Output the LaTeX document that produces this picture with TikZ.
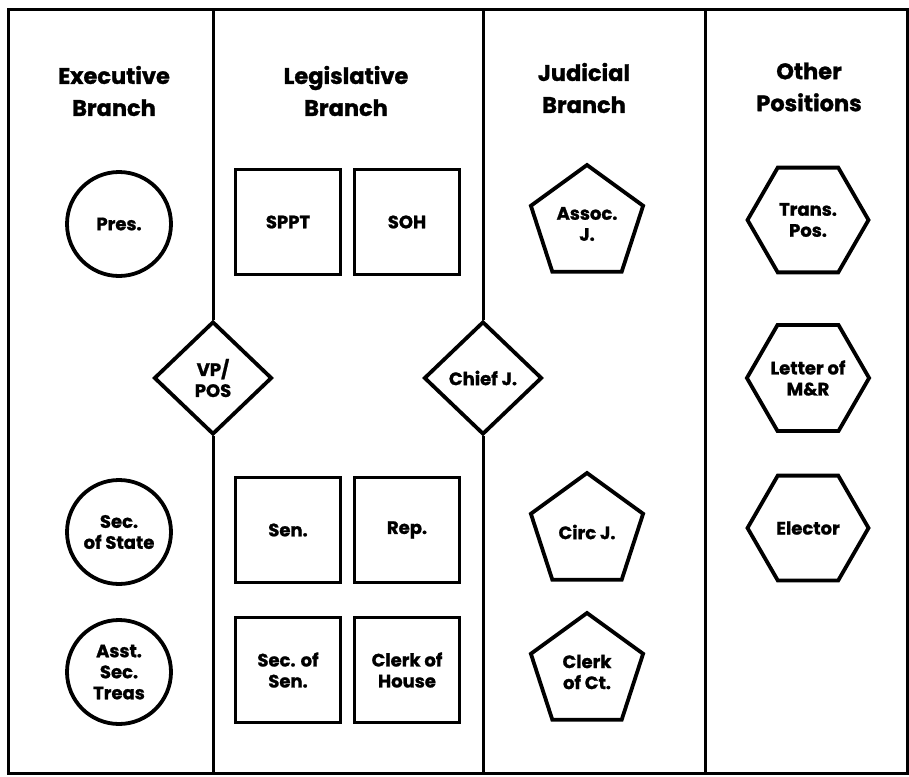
\documentclass[tikz,border=0pt]{standalone}
\usepackage{fontspec}
\setmainfont{Poppins}[BoldFeatures={FakeBold=1.2}]
\usetikzlibrary{shapes.geometric}
\begin{document}
\begin{tikzpicture}[x=1pt,y=-1pt,
  frame/.style={line width=3pt},
  heading/.style={align=center,font=\fontsize{22.5}{32}\selectfont\bfseries},
  item/.style={draw,line width=3.8pt,align=center,inner sep=0pt,
    font=\fontsize{18}{21}\selectfont\bfseries},
  officecircle/.style={item,circle,minimum size=104pt},
  officebox/.style={item,rectangle,minimum width=105pt,minimum height=105pt},
  crossing/.style={item,diamond,minimum width=118pt,minimum height=113pt},
  court/.style={item,regular polygon,regular polygon sides=5,minimum size=118pt},
  other/.style={item,regular polygon,regular polygon sides=6,minimum size=121pt}]
\useasboundingbox (0,0) rectangle (909,776);

% outer frame and fixed column rule
\draw[frame] (8,10) rectangle (907,773);
\coordinate (ruleAtop) at (213,10);
\coordinate (ruleAbot) at (213,773);
\coordinate (ruleBtop) at (483,10);
\coordinate (ruleBbot) at (483,773);
\coordinate (ruleCtop) at (705,10);
\coordinate (ruleCbot) at (705,773);
\draw[frame] (ruleCtop) -- (ruleCbot);

% column headings
\node[heading] (hexec) at (114,91) {Executive\\Branch};
\node[heading] (hleg) at (346,91) {Legislative\\Branch};
\node[heading] (hjud) at (584,88) {Judicial\\Branch};
\node[heading] (hoth) at (809,87) {Other\\Positions};

% diamonds sitting on the column rules
\node[crossing] (vp) at (213,378) {VP/\\POS};
\node[crossing] (cj) at (483,378) {Chief J.};
\draw[frame] (ruleAtop) -- (vp.north);
\draw[frame] (vp.south) -- (ruleAbot);
\draw[frame] (ruleBtop) -- (cj.north);
\draw[frame] (cj.south) -- (ruleBbot);

% executive
\node[officecircle] (pres) at (119,224) {Pres.};
\node[officecircle] (sos) at (119,532) {Sec.\\of State};
\node[officecircle] (ast) at (119,672) {Asst.\\Sec.\\Treas};

% legislative
\node[officebox] (sppt) at (288,222) {SPPT};
\node[officebox] (soh) at (407,222) {SOH};
\node[officebox] (sen) at (288,530) {Sen.};
\node[officebox] (rep) at (407,530) {Rep.};
\node[officebox] (secsen) at (288,670) {Sec. of\\Sen.};
\node[officebox] (clerkh) at (407,670) {Clerk of\\House};

% judicial
\node[court] (assoc) at (587,224) {Assoc.\\J.};
\node[court] (circ) at (587,532) {Circ J.};
\node[court] (clerkc) at (587,672) {Clerk\\of Ct.};

% other positions
\node[other] (trans) at (808,220) {Trans.\\Pos.};
\node[other] (letter) at (808,378) {Letter of\\M\&R};
\node[other] (elector) at (808,528) {Elector};
\end{tikzpicture}
\end{document}
